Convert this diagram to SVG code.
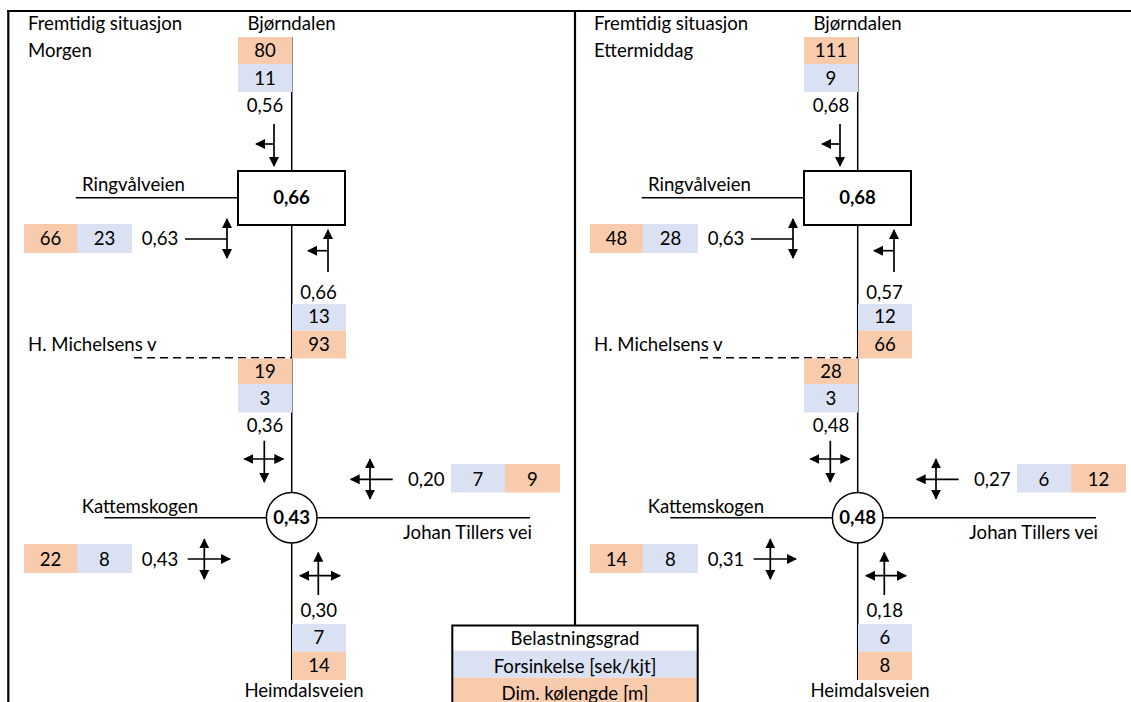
<svg xmlns="http://www.w3.org/2000/svg" width="1131" height="702" viewBox="0 0 1131 702">
<style>
.t{font-family:Lato,"Liberation Sans",sans-serif;font-size:18.6px;fill:#000}
.m{text-anchor:middle}
.e{text-anchor:end}
.b{font-weight:bold}
.o{fill:#F8CBAD}
.bl{fill:#D9E1F2}
.road{stroke:#000;stroke-width:1.5;fill:none}
.dash{stroke:#000;stroke-width:1.5;fill:none;stroke-dasharray:8 5}
.arr{stroke:#000;stroke-width:1.7;fill:none}
.a1{marker-end:url(#ah)}
.a2{marker-start:url(#ah);marker-end:url(#ah)}
.frame{stroke:#000;stroke-width:2.2;fill:none}
.node{fill:#fff;stroke:#000;stroke-width:2}
</style>
<defs>
<marker id="ah" viewBox="0 0 10 10" refX="9" refY="5" markerWidth="10" markerHeight="10" markerUnits="userSpaceOnUse" orient="auto-start-reverse"><path d="M0,0L10,5L0,10z" fill="#000"/></marker>
<g id="panel">
  <g id="roads">
    <line class="road" x1="291.7" y1="37" x2="291.7" y2="171"/>
    <line class="road" x1="291.7" y1="225" x2="291.7" y2="492.5"/>
    <line class="road" x1="291.7" y1="543" x2="291.7" y2="680"/>
    <line class="road" x1="75.7" y1="197.7" x2="238" y2="197.7"/>
    <line class="dash" x1="134" y1="357.7" x2="291.7" y2="357.7"/>
    <line class="road" x1="104.3" y1="517.7" x2="266.4" y2="517.7"/>
    <line class="road" x1="317" y1="517.7" x2="530" y2="517.7"/>
  </g>
  <g id="arrows">
    <line class="arr a1" x1="274" y1="124" x2="274" y2="166"/>
    <line class="arr a1" x1="274" y1="144" x2="256" y2="144"/>
    <line class="arr" x1="185" y1="239" x2="227" y2="239"/>
    <line class="arr a2" x1="227" y1="219" x2="227" y2="258"/>
    <line class="arr a1" x1="328" y1="272" x2="328" y2="230"/>
    <line class="arr a1" x1="328" y1="250.7" x2="308" y2="250.7"/>
    <line class="arr a2" x1="244.3" y1="459" x2="283.3" y2="459"/>
    <line class="arr a1" x1="264.3" y1="440.7" x2="264.3" y2="482"/>
    <line class="arr a1" x1="392.7" y1="479.3" x2="350.7" y2="479.3"/>
    <line class="arr a2" x1="370" y1="459.3" x2="370" y2="498.7"/>
    <line class="arr a1" x1="187.7" y1="559" x2="230" y2="559"/>
    <line class="arr a2" x1="204.3" y1="539.3" x2="204.3" y2="579"/>
    <line class="arr a1" x1="318.3" y1="595" x2="318.3" y2="552.7"/>
    <line class="arr a2" x1="300" y1="575.7" x2="340" y2="575.7"/>
  </g>
</g>
</defs>

<g id="frame">
  <line class="frame" x1="7" y1="11" x2="1131" y2="11"/>
  <line class="frame" x1="8.3" y1="10" x2="8.3" y2="702"/>
  <line class="frame" x1="575" y1="11" x2="575" y2="626"/>
</g>

<g id="connectors">
  <use href="#panel"/>
  <use href="#panel" transform="translate(566,0)"/>
</g>

<!-- Morning panel -->
<g id="morning">
  <g id="m-title"><text class="t" x="28" y="30">Fremtidig situasjon</text><text class="t" x="28" y="57">Morgen</text></g>
  <g id="m-bjorndalen">
    <text class="t m" x="291.5" y="30">Bjørndalen</text>
    <rect class="o" x="238" y="37" width="54" height="27"/><text class="t m" x="265" y="57">80</text>
    <rect class="bl" x="238" y="64" width="54" height="28"/><text class="t m" x="265" y="85">11</text>
    <text class="t m" x="265" y="112">0,56</text>
  </g>
  <g id="m-ringvalveien-node">
    <rect class="node" x="238" y="171" width="107" height="54"/>
    <text class="t m b" x="291.5" y="204">0,66</text>
  </g>
  <g id="m-ringvalveien">
    <text class="t" x="82" y="191">Ringvålveien</text>
    <rect class="o" x="24" y="224" width="53" height="29"/><text class="t m" x="50.5" y="245">66</text>
    <rect class="bl" x="77" y="224" width="55" height="29"/><text class="t m" x="104.5" y="245">23</text>
    <text class="t" x="141.7" y="245">0,63</text>
  </g>
  <g id="m-north-approach">
    <text class="t m" x="318.5" y="299">0,66</text>
    <rect class="bl" x="292" y="304" width="54" height="26.5"/><text class="t m" x="319" y="323">13</text>
    <rect class="o" x="292" y="330.5" width="54" height="28"/><text class="t m" x="319" y="351">93</text>
  </g>
  <g id="m-michelsens"><text class="t" x="28" y="351">H. Michelsens v</text></g>
  <g id="m-south-approach">
    <rect class="o" x="238" y="358.5" width="54" height="25.5"/><text class="t m" x="265" y="378">19</text>
    <rect class="bl" x="238" y="384" width="54" height="28.5"/><text class="t m" x="265" y="405">3</text>
    <text class="t m" x="265" y="432">0,36</text>
  </g>
  <g id="m-johan">
    <text class="t" x="408" y="485.7">0,20</text>
    <rect class="bl" x="451" y="464" width="54" height="28.5"/><text class="t m" x="478" y="485.5">7</text>
    <rect class="o" x="505" y="464" width="55" height="28.5"/><text class="t m" x="532.5" y="485.5">9</text>
    <text class="t e" x="532" y="539.3">Johan Tillers vei</text>
  </g>
  <g id="m-roundabout">
    <circle cx="291.7" cy="517.7" r="25.3" fill="#fff" stroke="#000" stroke-width="1.5"/>
    <text class="t m b" x="291.7" y="524">0,43</text>
  </g>
  <g id="m-kattemskogen">
    <text class="t" x="81.7" y="513.3">Kattemskogen</text>
    <rect class="o" x="24" y="544" width="53" height="29"/><text class="t m" x="50.5" y="565.5">22</text>
    <rect class="bl" x="77" y="544" width="55" height="29"/><text class="t m" x="104.5" y="565.5">8</text>
    <text class="t" x="141.7" y="566">0,43</text>
  </g>
  <g id="m-heimdal">
    <text class="t m" x="318.7" y="617.3">0,30</text>
    <rect class="bl" x="292" y="624" width="54" height="27.7"/><text class="t m" x="319" y="644">7</text>
    <rect class="o" x="292" y="651.7" width="54" height="28.3"/><text class="t m" x="319" y="672">14</text>
    <text class="t m" x="304" y="697">Heimdalsveien</text>
  </g>
</g>

<!-- Afternoon panel -->
<g id="afternoon" transform="translate(566,0)">
  <g id="a-title"><text class="t" x="28" y="30">Fremtidig situasjon</text><text class="t" x="28" y="57">Ettermiddag</text></g>
  <g id="a-bjorndalen">
    <text class="t m" x="291.5" y="30">Bjørndalen</text>
    <rect class="o" x="238" y="37" width="54" height="27"/><text class="t m" x="265" y="57">111</text>
    <rect class="bl" x="238" y="64" width="54" height="28"/><text class="t m" x="265" y="85">9</text>
    <text class="t m" x="265" y="112">0,68</text>
  </g>
  <g id="a-ringvalveien-node">
    <rect class="node" x="238" y="171" width="107" height="54"/>
    <text class="t m b" x="291.5" y="204">0,68</text>
  </g>
  <g id="a-ringvalveien">
    <text class="t" x="82" y="191">Ringvålveien</text>
    <rect class="o" x="24" y="224" width="53" height="29"/><text class="t m" x="50.5" y="245">48</text>
    <rect class="bl" x="77" y="224" width="55" height="29"/><text class="t m" x="104.5" y="245">28</text>
    <text class="t" x="141.7" y="245">0,63</text>
  </g>
  <g id="a-north-approach">
    <text class="t m" x="318.5" y="299">0,57</text>
    <rect class="bl" x="292" y="304" width="54" height="26.5"/><text class="t m" x="319" y="323">12</text>
    <rect class="o" x="292" y="330.5" width="54" height="28"/><text class="t m" x="319" y="351">66</text>
  </g>
  <g id="a-michelsens"><text class="t" x="28" y="351">H. Michelsens v</text></g>
  <g id="a-south-approach">
    <rect class="o" x="238" y="358.5" width="54" height="25.5"/><text class="t m" x="265" y="378">28</text>
    <rect class="bl" x="238" y="384" width="54" height="28.5"/><text class="t m" x="265" y="405">3</text>
    <text class="t m" x="265" y="432">0,48</text>
  </g>
  <g id="a-johan">
    <text class="t" x="408" y="485.7">0,27</text>
    <rect class="bl" x="451" y="464" width="54" height="28.5"/><text class="t m" x="478" y="485.5">6</text>
    <rect class="o" x="505" y="464" width="55" height="28.5"/><text class="t m" x="532.5" y="485.5">12</text>
    <text class="t e" x="532" y="539.3">Johan Tillers vei</text>
  </g>
  <g id="a-roundabout">
    <circle cx="291.7" cy="517.7" r="25.3" fill="#fff" stroke="#000" stroke-width="1.5"/>
    <text class="t m b" x="291.7" y="524">0,48</text>
  </g>
  <g id="a-kattemskogen">
    <text class="t" x="81.7" y="513.3">Kattemskogen</text>
    <rect class="o" x="24" y="544" width="53" height="29"/><text class="t m" x="50.5" y="565.5">14</text>
    <rect class="bl" x="77" y="544" width="55" height="29"/><text class="t m" x="104.5" y="565.5">8</text>
    <text class="t" x="141.7" y="566">0,31</text>
  </g>
  <g id="a-heimdal">
    <text class="t m" x="318.7" y="617.3">0,18</text>
    <rect class="bl" x="292" y="624" width="54" height="27.7"/><text class="t m" x="319" y="644">6</text>
    <rect class="o" x="292" y="651.7" width="54" height="28.3"/><text class="t m" x="319" y="672">8</text>
    <text class="t m" x="304" y="697">Heimdalsveien</text>
  </g>
</g>

<g id="legend">
  <rect x="452.3" y="625.5" width="245.4" height="80" fill="#fff"/>
  <rect class="bl" x="452.3" y="650.7" width="245.4" height="27"/>
  <rect class="o" x="452.3" y="677.7" width="245.4" height="30"/>
  <rect x="452.3" y="625.5" width="245.4" height="80" fill="none" stroke="#000" stroke-width="2"/>
  <text class="t m" x="575" y="645">Belastningsgrad</text>
  <text class="t m" x="575" y="673">Forsinkelse [sek/kjt]</text>
  <text class="t m" x="575" y="700">Dim. kølengde [m]</text>
</g>
</svg>
